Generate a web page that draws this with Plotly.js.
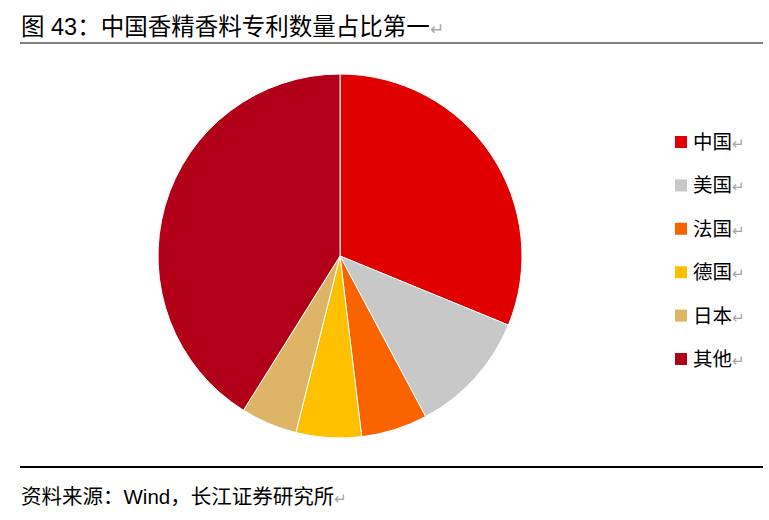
<!DOCTYPE html>
<html>
<head>
<meta charset="utf-8">
<script src="https://cdn.plot.ly/plotly-3.0.1.min.js"></script>
<style>
  html, body { margin: 0; padding: 0; background: #fff; }
  #chart { width: 769px; height: 520px; }
</style>
</head>
<body>
<div id="chart"></div>
<script>
// 专利数量占比 (%)
const countries = ['中国', '美国', '法国', '德国', '日本', '其他'];
const shares = [31.2, 11.0, 5.9, 5.8, 5.0, 41.1];
const colors = ['#E00000', '#C8C8C8', '#FA6400', '#FFC000', '#DEB567', '#B10017'];

const W = 769, H = 520;
const px = x => x / W;
const py = y => 1 - y / H;
const FONT = 'Liberation Sans, Arial, Noto Sans CJK SC, sans-serif';
const ret = s => '<span style="color:#a6a6a6;font-size:' + s + 'px">↵</span>';

var pie = {
    type: 'pie',
    labels: countries,
    values: shares,
    sort: false,
    direction: 'clockwise',
    rotation: 0,
    marker: { colors: colors, line: { color: '#ffffff', width: 1 } },
    textinfo: 'none',
    hovertemplate: '%{label}: %{value}%<extra></extra>',
    domain: { x: [px(158), px(522)], y: [py(438), py(74)] },
    showlegend: false
};

var shapes = [
    { type: 'line', xref: 'paper', yref: 'paper', x0: px(20), x1: px(763), y0: py(43), y1: py(43),
      line: { color: '#000', width: 1 } },
    { type: 'line', xref: 'paper', yref: 'paper', x0: px(20), x1: px(763), y0: py(467), y1: py(467),
      line: { color: '#000', width: 2 } }
];

var annotations = [
    { text: '图 43：中国香精香料专利数量占比第一' + ret(17), xref: 'paper', yref: 'paper',
      x: px(19), y: py(27), xanchor: 'left', yanchor: 'middle', showarrow: false,
      font: { family: FONT, size: 23.5, color: '#000' } },
    { text: '资料来源：Wind，长江证券研究所' + ret(15), xref: 'paper', yref: 'paper',
      x: px(19), y: py(496), xanchor: 'left', yanchor: 'middle', showarrow: false,
      font: { family: FONT, size: 20.5, color: '#000' } }
];

// hand-made legend to match the spacing of the original
countries.forEach((name, i) => {
    const yc = 142 + i * 43.4;
    shapes.push({ type: 'rect', xref: 'paper', yref: 'paper',
        x0: px(675), x1: px(687), y0: py(yc + 6), y1: py(yc - 6),
        fillcolor: colors[i], line: { width: 0 } });
    annotations.push({ text: name + ret(15), xref: 'paper', yref: 'paper',
        x: px(691), y: py(yc), xanchor: 'left', yanchor: 'middle', showarrow: false,
        font: { family: FONT, size: 19.5, color: '#000' } });
});

var layout = {
    width: W,
    height: H,
    margin: { l: 0, r: 0, t: 0, b: 0 },
    paper_bgcolor: '#fff',
    plot_bgcolor: '#fff',
    showlegend: false,
    shapes: shapes,
    annotations: annotations
};

Plotly.newPlot('chart', [pie], layout, { displayModeBar: false, staticPlot: true });
</script>
</body>
</html>
